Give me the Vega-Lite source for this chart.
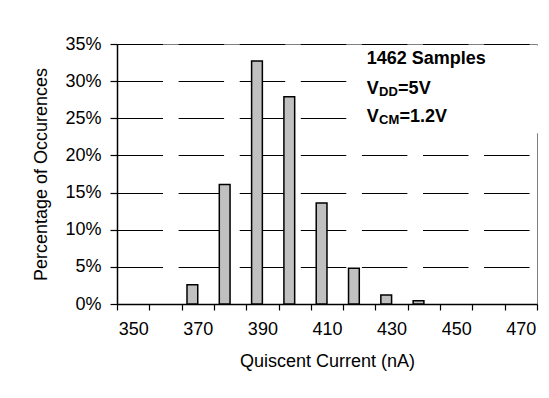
{
  "$schema": "https://vega.github.io/schema/vega-lite/v6.json",
  "width": 420,
  "height": 260,
  "autosize": {"type": "none"},
  "padding": {"left": 117, "top": 44, "right": 12, "bottom": 94},
  "background": "white",
  "config": {
    "font": "Liberation Sans",
    "view": {"stroke": "#808080", "strokeWidth": 1}
  },
  "data": {
    "values": [
      {"current": 370, "pct": 0.026},
      {"current": 380, "pct": 0.161},
      {"current": 390, "pct": 0.327},
      {"current": 400, "pct": 0.279},
      {"current": 410, "pct": 0.136},
      {"current": 420, "pct": 0.048},
      {"current": 430, "pct": 0.012},
      {"current": 440, "pct": 0.0044}
    ]
  },
  "layer": [
    {
      "mark": {"type": "bar", "fill": "#c0c0c0", "stroke": "black", "strokeWidth": 1.5, "width": {"band": 0.333}, "xOffset": -5.4},
      "encoding": {
        "x": {
          "field": "current",
          "type": "ordinal",
          "scale": {"domain": [350, 360, 370, 380, 390, 400, 410, 420, 430, 440, 450, 460, 470], "paddingInner": 0, "paddingOuter": 0},
          "axis": {
            "title": "Quiscent Current (nA)",
            "titleFontSize": 18,
            "titleFontWeight": "normal",
            "titleColor": "black",
            "titlePadding": 14,
            "labelAngle": 0,
            "labelFontSize": 18,
            "labelColor": "black",
            "labelPadding": 10,
            "labelExpr": "datum.value % 20 == 10 ? datum.label : ''",
            "tickBand": "extent",
            "tickSize": 6,
            "tickColor": "black",
            "tickWidth": 1.2,
            "domainColor": "black",
            "domainWidth": 1.5,
            "grid": false
          }
        },
        "y": {
          "field": "pct",
          "type": "quantitative",
          "scale": {"domain": [0, 0.35], "nice": false},
          "axis": {
            "title": "Percentage of Occurences",
            "titleFontSize": 18,
            "titleFontWeight": "normal",
            "titleColor": "black",
            "titlePadding": 14,
            "values": [0, 0.05, 0.1, 0.15, 0.2, 0.25, 0.3, 0.35],
            "tickCount": 20,
            "format": ".0%",
            "labelOverlap": false,
            "labelFlush": false,
            "labelFontSize": 18,
            "labelColor": "black",
            "labelPadding": 9,
            "tickSize": 7,
            "tickColor": "black",
            "tickWidth": 1.2,
            "domainColor": "black",
            "domainWidth": 1.5,
            "grid": true,
            "gridColor": "black",
            "gridWidth": 1,
            "gridDash": [45.5, 15.6]
          }
        }
      }
    },
    {
      "data": {"values": [{}]},
      "mark": {"type": "rect", "fill": "white", "x2Offset": 31, "xOffset": 4, "yOffset": 1.5},
      "encoding": {
        "x": {"datum": 420, "type": "ordinal", "bandPosition": 0},
        "x2": {"datum": 470},
        "y": {"datum": 0.35, "type": "quantitative"},
        "y2": {"datum": 0.23}
      }
    },
    {
      "data": {"values": [{"t": "1462 Samples"}]},
      "mark": {"type": "text", "align": "left", "baseline": "alphabetic", "fontSize": 18, "fontWeight": "bold", "color": "black", "dx": 7.4},
      "encoding": {"x": {"datum": 420, "type": "ordinal"}, "y": {"datum": 0.3227, "type": "quantitative"}, "text": {"field": "t"}}
    },
    {
      "data": {"values": [{"t": "V"}]},
      "mark": {"type": "text", "align": "left", "baseline": "alphabetic", "fontSize": 18, "fontWeight": "bold", "color": "black", "dx": 7.4},
      "encoding": {"x": {"datum": 420, "type": "ordinal"}, "y": {"datum": 0.2828, "type": "quantitative"}, "text": {"field": "t"}}
    },
    {
      "data": {"values": [{"t": "DD"}]},
      "mark": {"type": "text", "align": "left", "baseline": "alphabetic", "fontSize": 13, "fontWeight": "bold", "color": "black", "dx": 19.8, "dy": 2.5},
      "encoding": {"x": {"datum": 420, "type": "ordinal"}, "y": {"datum": 0.2828, "type": "quantitative"}, "text": {"field": "t"}}
    },
    {
      "data": {"values": [{"t": "=5V"}]},
      "mark": {"type": "text", "align": "left", "baseline": "alphabetic", "fontSize": 18, "fontWeight": "bold", "color": "black", "dx": 38.8},
      "encoding": {"x": {"datum": 420, "type": "ordinal"}, "y": {"datum": 0.2828, "type": "quantitative"}, "text": {"field": "t"}}
    },
    {
      "data": {"values": [{"t": "V"}]},
      "mark": {"type": "text", "align": "left", "baseline": "alphabetic", "fontSize": 18, "fontWeight": "bold", "color": "black", "dx": 7.4},
      "encoding": {"x": {"datum": 420, "type": "ordinal"}, "y": {"datum": 0.2456, "type": "quantitative"}, "text": {"field": "t"}}
    },
    {
      "data": {"values": [{"t": "CM"}]},
      "mark": {"type": "text", "align": "left", "baseline": "alphabetic", "fontSize": 13, "fontWeight": "bold", "color": "black", "dx": 19.8, "dy": 2.0},
      "encoding": {"x": {"datum": 420, "type": "ordinal"}, "y": {"datum": 0.2456, "type": "quantitative"}, "text": {"field": "t"}}
    },
    {
      "data": {"values": [{"t": "=1.2V"}]},
      "mark": {"type": "text", "align": "left", "baseline": "alphabetic", "fontSize": 18, "fontWeight": "bold", "color": "black", "dx": 40.2},
      "encoding": {"x": {"datum": 420, "type": "ordinal"}, "y": {"datum": 0.2456, "type": "quantitative"}, "text": {"field": "t"}}
    }
  ]
}
